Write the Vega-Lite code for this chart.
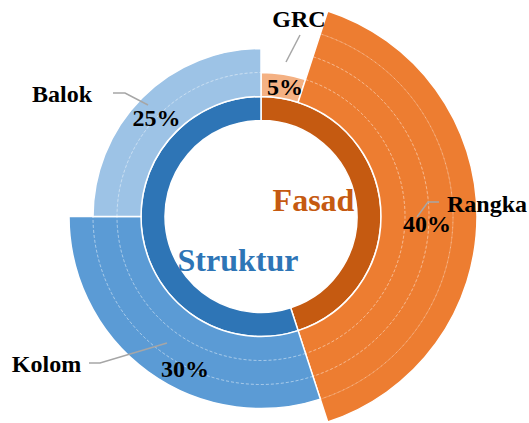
{
  "$schema": "https://vega.github.io/schema/vega-lite/v6.json",
  "width": 522,
  "height": 413,
  "padding": {"left": 0, "top": 10, "right": 7, "bottom": 0},
  "autosize": {"type": "none"},
  "background": "white",
  "config": {"view": {"stroke": null}},
  "datasets": {
    "segments": [
      {"segment": "Fasad", "start": 0, "end": 45, "r0": 0, "r1": 1},
      {"segment": "Struktur", "start": 45, "end": 100, "r0": 0, "r1": 1},
      {"segment": "GRC", "start": 0, "end": 5, "r0": 1, "r1": 2},
      {"segment": "Rangka", "start": 5, "end": 45, "r0": 1, "r1": 5},
      {"segment": "Kolom", "start": 45, "end": 75, "r0": 1, "r1": 4},
      {"segment": "Balok", "start": 75, "end": 100, "r0": 1, "r1": 3}
    ],
    "gridlines": [
      {"start": 5, "end": 45, "level": 2},
      {"start": 5, "end": 45, "level": 3},
      {"start": 5, "end": 45, "level": 4},
      {"start": 45, "end": 75, "level": 2},
      {"start": 45, "end": 75, "level": 3},
      {"start": 75, "end": 100, "level": 2}
    ],
    "labels": [
      {"text": "GRC", "x": 38, "y": 189.5, "kind": "name"},
      {"text": "Balok", "x": -199, "y": 114.5, "kind": "name"},
      {"text": "Rangka", "x": 226, "y": 4.5, "kind": "name"},
      {"text": "Kolom", "x": -214.5, "y": -155.5, "kind": "name"},
      {"text": "5%", "x": 24, "y": 121.5, "kind": "pct"},
      {"text": "25%", "x": -104.5, "y": 90.5, "kind": "pct"},
      {"text": "40%", "x": 166, "y": -15.5, "kind": "pct"},
      {"text": "30%", "x": -76, "y": -160.5, "kind": "pct"}
    ],
    "groups": [
      {"text": "Fasad", "segment": "Fasad", "x": 52.5, "y": 5.5},
      {"text": "Struktur", "segment": "Struktur", "x": -23, "y": -54.5}
    ],
    "leaders": [
      {"id": "GRC", "k": 0, "x": 39, "y": 181.5},
      {"id": "GRC", "k": 1, "x": 25, "y": 154.5},
      {"id": "Balok", "k": 0, "x": -148, "y": 123.5},
      {"id": "Balok", "k": 1, "x": -136, "y": 123.5},
      {"id": "Balok", "k": 2, "x": -113, "y": 111.5},
      {"id": "Rangka", "k": 0, "x": 178, "y": 14.5},
      {"id": "Rangka", "k": 1, "x": 167, "y": 14.5},
      {"id": "Rangka", "k": 2, "x": 156, "y": -0.5},
      {"id": "Kolom", "k": 0, "x": -172, "y": -146.5},
      {"id": "Kolom", "k": 1, "x": -161, "y": -146.5},
      {"id": "Kolom", "k": 2, "x": -94, "y": -126.5}
    ]
  },
  "layer": [
    {
      "data": {"name": "segments"},
      "mark": {"type": "arc", "stroke": "white", "strokeWidth": 1.5},
      "encoding": {
        "theta": {"field": "start", "type": "quantitative", "stack": null, "scale": {"type": "linear", "domain": [0, 100], "range": [0, 6.283185307179586], "zero": true}},
        "theta2": {"field": "end"},
        "radius": {"field": "r0", "type": "quantitative", "scale": {"type": "linear", "domain": [0, 5], "range": [96, 216], "zero": false}},
        "radius2": {"field": "r1"},
        "color": {
          "field": "segment",
          "type": "nominal",
          "scale": {
            "domain": ["Fasad", "Struktur", "GRC", "Rangka", "Kolom", "Balok"],
            "range": ["#C55A11", "#2E75B6", "#F4B183", "#ED7D31", "#5B9BD5", "#9DC3E6"]
          },
          "legend": null
        }
      }
    },
    {
      "data": {"name": "gridlines"},
      "mark": {"type": "arc", "fill": "transparent", "stroke": "white", "strokeWidth": 0.7, "strokeOpacity": 0.38, "strokeDash": [3, 2]},
      "encoding": {
        "theta": {"field": "start", "type": "quantitative", "stack": null, "scale": {"type": "linear", "domain": [0, 100], "range": [0, 6.283185307179586], "zero": true}},
        "theta2": {"field": "end"},
        "radius": {"field": "level", "type": "quantitative", "scale": {"type": "linear", "domain": [0, 5], "range": [96, 216], "zero": false}},
        "radius2": {"field": "level"}
      }
    },
    {
      "data": {"name": "leaders"},
      "mark": {"type": "line", "color": "#A6A6A6", "strokeWidth": 1.5},
      "encoding": {
        "x": {"field": "x", "type": "quantitative", "scale": {"domain": [-261, 261], "nice": false, "zero": false}, "axis": null},
        "y": {"field": "y", "type": "quantitative", "scale": {"domain": [-206.5, 206.5], "nice": false, "zero": false}, "axis": null},
        "detail": {"field": "id"},
        "order": {"field": "k"}
      }
    },
    {
      "data": {"name": "labels"},
      "mark": {"type": "text", "font": "Liberation Serif", "fontWeight": "bold", "fontSize": 24, "color": "black", "align": "center", "baseline": "alphabetic"},
      "encoding": {
        "x": {"field": "x", "type": "quantitative", "scale": {"domain": [-261, 261], "nice": false, "zero": false}, "axis": null},
        "y": {"field": "y", "type": "quantitative", "scale": {"domain": [-206.5, 206.5], "nice": false, "zero": false}, "axis": null},
        "text": {"field": "text"}
      }
    },
    {
      "data": {"name": "groups"},
      "mark": {"type": "text", "font": "Liberation Serif", "fontWeight": "bold", "fontSize": 32, "align": "center", "baseline": "alphabetic"},
      "encoding": {
        "x": {"field": "x", "type": "quantitative", "scale": {"domain": [-261, 261], "nice": false, "zero": false}, "axis": null},
        "y": {"field": "y", "type": "quantitative", "scale": {"domain": [-206.5, 206.5], "nice": false, "zero": false}, "axis": null},
        "text": {"field": "text"},
        "color": {"field": "segment", "type": "nominal", "legend": null}
      }
    }
  ]
}
